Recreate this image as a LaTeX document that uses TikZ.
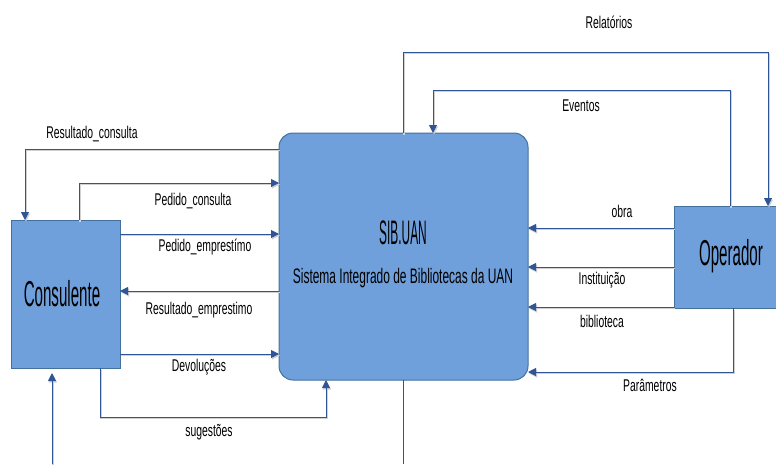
\documentclass[tikz,border=0pt]{standalone}
\usepackage{fontspec}
\setmainfont{Liberation Sans}
\newfontfamily\lblfont{Liberation Sans}[FakeStretch=0.61]
\newfontfamily\subfont{Liberation Sans}[FakeStretch=0.57]
\newfontfamily\bigfont{Liberation Sans}[FakeStretch=0.42]
\newfontfamily\sibfont{Liberation Sans}[FakeStretch=0.35]
\usetikzlibrary{arrows.meta}
\definecolor{boxfill}{HTML}{6FA0DC}
\definecolor{boxline}{HTML}{41719C}
\definecolor{flowc}{HTML}{2F5597}
\begin{document}
\begin{tikzpicture}[x=1pt,y=-1pt,
  box/.style={draw=boxline, fill=boxfill, line width=1pt, inner sep=0pt, outer sep=0pt},
  flow/.style={draw=flowc, line width=1pt, -{Triangle[length=8pt,width=8pt]},
     preaction={draw=black!18, line width=1.1pt, transform canvas={shift={(1pt,-1.5pt)}}}},
  plain/.style={draw=flowc, line width=1pt},
  lbl/.style={font=\lblfont\fontsize{17}{19}\selectfont, inner sep=0pt},
  big/.style={font=\bigfont\fontsize{36}{40}\selectfont, inner sep=0pt}]
\useasboundingbox (0,0) rectangle (776,464);

\node[box, minimum width=109pt, minimum height=148pt] (cons) at (65.5,294) {};
\node[box, rounded corners=14pt, minimum width=249pt, minimum height=247pt] (sib) at (403.5,256.5) {};
\node[box, minimum width=104pt, minimum height=102pt] (op) at (726,257) {};

\node[big] (tcons) at (62,294) {Consulente};
\node[big] (top) at (731,256) {Operador};
\node[big, font=\sibfont\fontsize{34}{38}\selectfont] (tsib) at (403,233) {SIB.UAN};
\node[lbl, font=\subfont\fontsize{21}{24}\selectfont] (tsub) at (403,278) {Sistema Integrado de Bibliotecas da UAN};

% Consulente <-> SIB
\draw[flow] (sib.west |- 0,149) -| (cons.north -| 25,0);
\draw[flow] (cons.north -| 79,0) |- (sib.west |- 0,183);
\draw[flow] (cons.east |- 0,234) -- (sib.west |- 0,234);
\draw[flow] (sib.west |- 0,291) -- (cons.east |- 0,291);
\draw[flow] (cons.east |- 0,354) -- (sib.west |- 0,354);
\draw[flow] (cons.south -| 100,0) -- (100,417) -| (sib.south -| 326,0);
\coordinate (bl) at (52,464);
\coordinate (blt) at (52,373);
\draw[flow] (bl) -- (blt);
\coordinate (bm) at (403.5,464);
\draw[plain] (sib.south) -- (bm);

% Operador <-> SIB
\draw[flow] (sib.north -| 403,0) -- (403,52) -| (op.north -| 768,0);
\draw[flow] (op.north -| 730,0) -- (730,90) -| (sib.north -| 433,0);
\draw[flow] (op.west |- 0,228) -- (sib.east |- 0,228);
\draw[flow] (op.west |- 0,267) -- (sib.east |- 0,267);
\draw[flow] (op.west |- 0,307) -- (sib.east |- 0,307);
\draw[flow] (op.south -| 733,0) -- (733,372) -- (sib.east |- 0,372);

% labels
\node[lbl] (l1) at (92,134) {Resultado\_consulta};
\node[lbl] (l2) at (193,201) {Pedido\_consulta};
\node[lbl] (l3) at (205,247) {Pedido\_emprestímo};
\node[lbl] (l4) at (199,310) {Resultado\_emprestimo};
\node[lbl] (l5) at (199,367) {Devoluções};
\node[lbl] (l6) at (209,432) {sugestões};
\node[lbl] (l7) at (609,22) {Relatórios};
\node[lbl] (l8) at (581,106) {Eventos};
\node[lbl] (l9) at (622,211) {obra};
\node[lbl] (l10) at (602,280) {Instituição};
\node[lbl] (l11) at (602,321) {biblioteca};
\node[lbl] (l12) at (650,385) {Parâmetros};
\end{tikzpicture}
\end{document}
